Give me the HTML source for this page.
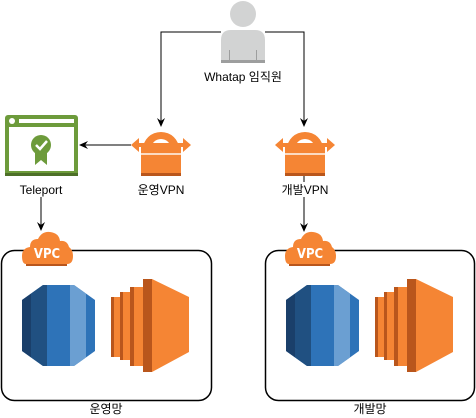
<!DOCTYPE html>
<html><head><style>body{margin:0;background:#fff}svg{display:block}text{font-family:"Liberation Sans","Noto Sans CJK KR",sans-serif;font-size:12px;fill:#000}</style></head><body>
<svg width="476" height="418" viewBox="0 0 476 418">
<defs>
<marker id="a" markerWidth="10" markerHeight="10" refX="8" refY="5" orient="auto" markerUnits="userSpaceOnUse"><path d="M0,1 L9,5 L0,9 L3,5 Z" fill="#000"/></marker>
<clipPath id="oct"><path d="M21,0 L52,0 L73,15 L73,66 L52,81 L21,81 L0,66 L0,15 Z"/></clipPath>
<g id="vpn">
<path d="M12,22 A18,17 0 0 1 48,22 L40,22 A10,10 0 0 0 20,22 Z" fill="#f58534"/>
<rect x="10" y="20" width="40" height="29" fill="#f58534"/>
<rect x="10" y="46" width="40" height="3" fill="#b9561c"/>
<rect x="10" y="26" width="40" height="2" fill="#fff" opacity=".7"/>
<path d="M0,18 L8,11 L8,25 Z M60,18 L52,11 L52,25 Z" fill="#f58534"/>
<rect x="4" y="16" width="52" height="4" fill="#f58534"/>
</g>
<g id="cloud">
<path d="M4,33 Q0,33 0,25 Q0,17 8,16 Q8,8 16,8 Q20,0 28,1 Q37,2 38,10 Q45,9 47,16 Q51,19 51,25 Q51,33 45,33 Z" fill="#f58534"/>
<path d="M4,33 L45,33 L45,35 L4,35Z" fill="#b9561c"/>
<text x="25" y="27" text-anchor="middle" style="fill:#fff;font-weight:bold;font-size:13px;font-family:'DejaVu Sans Condensed','Liberation Sans',sans-serif">VPC</text>
</g>
<g id="db">
<g clip-path="url(#oct)">
<rect x="0" y="0" width="73" height="81" fill="#2e73b8"/>
<rect x="0" y="0" width="9" height="81" fill="#1a3f6a"/>
<rect x="9" y="0" width="16" height="81" fill="#205081"/>
<rect x="48" y="0" width="16" height="81" fill="#6b9fd2"/>
</g>
</g>
<g id="ec2">
<rect x="0" y="18" width="9" height="60" fill="#f58534"/>
<rect x="0" y="18" width="3" height="60" fill="#b9561c"/>
<rect x="9" y="13" width="10" height="68" fill="#f58534"/>
<rect x="9" y="13" width="3" height="68" fill="#b9561c"/>
<rect x="19" y="8" width="13" height="79" fill="#f58534"/>
<rect x="19" y="8" width="4" height="79" fill="#b9561c"/>
<rect x="32" y="0" width="9" height="93" fill="#b9561c"/>
<path d="M41,0 L78,18 L78,73 L41,93 Z" fill="#f58534"/>
</g>
</defs>
<!-- person -->
<circle cx="243" cy="14" r="13" fill="#d2d3d3"/>
<path d="M221,63 L221,40 Q221,30 231,30 L255,30 Q265,30 265,40 L265,63 Z" fill="#d2d3d3"/>
<rect x="221" y="60" width="44" height="3" fill="#9d9e9e"/>
<rect x="229" y="50" width="1" height="10" fill="#9d9e9e"/><rect x="256" y="50" width="1" height="10" fill="#9d9e9e"/>
<text x="243" y="81" text-anchor="middle">Whatap 임직원</text>
<!-- connectors -->
<path d="M221,32 L161,32 L161,126" fill="none" stroke="#000" marker-end="url(#a)"/>
<path d="M265,32 L304,32 L304,126" fill="none" stroke="#000" marker-end="url(#a)"/>
<path d="M131,145 L80,145" fill="none" stroke="#000" marker-end="url(#a)"/>
<path d="M41,196 L41,230" fill="none" stroke="#000" marker-end="url(#a)"/>
<path d="M304,176 L304,231" fill="none" stroke="#000" marker-end="url(#a)"/>
<!-- teleport -->
<rect x="5" y="115" width="73" height="61" rx="3" fill="#6d9b3b"/>
<rect x="5" y="173" width="73" height="3" fill="#4d7028"/>
<rect x="9" y="127" width="65" height="44" fill="#fff"/>
<circle cx="12" cy="121" r="3" fill="#fff"/><rect x="19" y="119" width="55" height="4" fill="#fff"/>
<path d="M35,152 L35,165 L41,160 L47,165 L47,152 Z" fill="#6d9b3b"/>
<circle cx="41" cy="145" r="10" fill="#6d9b3b"/>
<path d="M36,145 L40,149 L47,141" fill="none" stroke="#fff" stroke-width="2.5"/>
<rect x="18" y="182" width="46" height="15" fill="#fff"/>
<text x="41" y="194" text-anchor="middle">Teleport</text>
<use href="#vpn" x="131" y="127"/>
<use href="#vpn" x="275" y="127"/>
<rect x="280" y="182" width="50" height="15" fill="#fff"/>
<text x="161" y="194" text-anchor="middle">운영VPN</text>
<text x="305" y="194" text-anchor="middle">개발VPN</text>
<!-- boxes -->
<rect x="1.5" y="250.5" width="210" height="150" rx="13" fill="none" stroke="#000" stroke-width="1.5"/>
<rect x="265.5" y="250.5" width="209" height="150" rx="13" fill="none" stroke="#000" stroke-width="1.5"/>
<use href="#cloud" x="22" y="231"/>
<use href="#cloud" x="285" y="231"/>
<use href="#db" x="22" y="285"/>
<use href="#db" x="286" y="285"/>
<use href="#ec2" x="111" y="279"/>
<use href="#ec2" x="375" y="279"/>
<text x="106" y="413" text-anchor="middle">운영망</text>
<text x="370" y="413" text-anchor="middle">개발망</text>
</svg>
</body></html>
